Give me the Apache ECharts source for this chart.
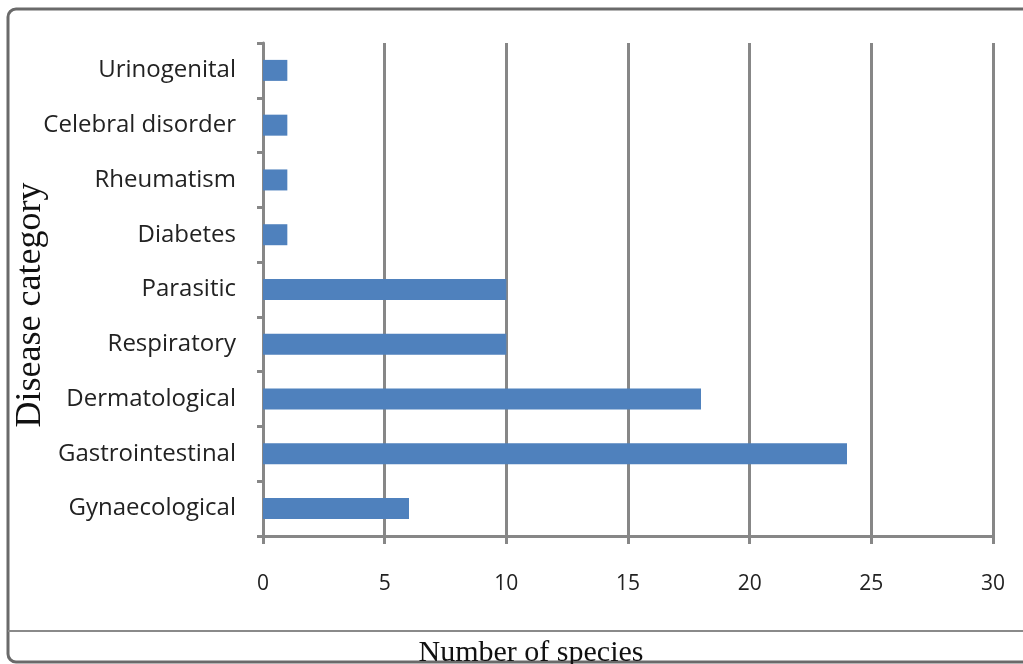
<!DOCTYPE html>
<html>
<head>
<meta charset="utf-8">
<script src="https://cdn.jsdelivr.net/npm/echarts@6/dist/echarts.min.js"></script>
<style>
html,body{margin:0;padding:0;background:#fff;}
#main{width:1023px;height:664px;}
</style>
</head>
<body>
<div id="main"></div>
<script>
const categories = ["Gynaecological","Gastrointestinal","Dermatological","Respiratory","Parasitic","Diabetes","Rheumatism","Celebral disorder","Urinogenital"];
const speciesCounts = [6, 24, 18, 10, 10, 1, 1, 1, 1];
const xTicks = [0, 5, 10, 15, 20, 25, 30];

const chart = echarts.init(document.getElementById('main'), null, {renderer: 'canvas'});
const axisGray = '#878787';
chart.setOption({
  backgroundColor: '#fff',
  animation: false,
  grid: {left: 263, right: 30, top: 43, bottom: 128, containLabel: false},
  xAxis: {
    type: 'value',
    min: xTicks[0], max: xTicks[xTicks.length - 1], interval: 5,
    axisLine: {show: true, lineStyle: {color: axisGray, width: 3}},
    axisTick: {show: true, length: 8, lineStyle: {color: axisGray, width: 3}},
    splitLine: {show: true, lineStyle: {color: axisGray, width: 3}},
    axisLabel: {margin: 38, fontFamily: 'Open Sans', fontSize: 21, color: '#222'}
  },
  yAxis: {
    type: 'category',
    data: categories,
    axisLine: {show: true, lineStyle: {color: axisGray, width: 3}},
    axisTick: {show: true, length: 6, alignWithLabel: false, lineStyle: {color: axisGray, width: 3}},
    splitLine: {show: false},
    axisLabel: {margin: 27, fontFamily: 'Open Sans', fontSize: 24, color: '#222', padding: [3, 0, 0, 0]}
  },
  series: [{
    type: 'bar',
    data: speciesCounts,
    barWidth: 21,
    itemStyle: {color: '#4f81bd'}
  }],
  graphic: [
    {type: 'rect', shape: {x: 8, y: 9, width: 1040, height: 653, r: 8}, style: {fill: 'none', stroke: '#6a6a6a', lineWidth: 3}, z: 100},
    {type: 'line', shape: {x1: 8, y1: 631, x2: 1023, y2: 631}, style: {stroke: '#8a8a8a', lineWidth: 2}, z: 100},
    {type: 'text', x: 531, y: 653, style: {text: 'Number of species', font: '30px "Liberation Serif"', fill: '#111', textAlign: 'center', textVerticalAlign: 'middle'}, z: 100},
    {type: 'text', x: 31, y: 305, rotation: Math.PI / 2, style: {text: 'Disease category', font: '36px "Liberation Serif"', fill: '#111', textAlign: 'center', textVerticalAlign: 'middle'}, z: 100}
  ]
});
</script>
</body>
</html>
